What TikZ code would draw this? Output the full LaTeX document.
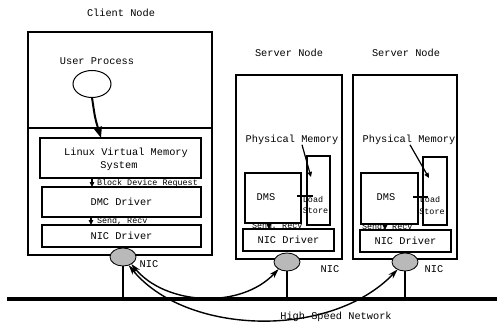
\documentclass[tikz,border=0pt]{standalone}
\usepackage{fontspec}
\setmainfont{Liberation Mono}
\usetikzlibrary{arrows.meta,calc,shapes.geometric}
\begin{document}
\begin{tikzpicture}[x=1pt,y=-1pt,
  every node/.style={font=\fontsize{10.3}{12}\selectfont, inner sep=0pt, outer sep=0pt},
  small/.style={font=\fontsize{8.4}{10}\selectfont},
  outerbox/.style={draw, line width=1.5pt},
  innerbox/.style={draw, line width=1.1pt},
  nic/.style={draw, ellipse, line width=0.8pt, fill=gray!55, minimum width=26pt, minimum height=18pt},
  sarrow/.style={line width=1.2pt, -{Triangle[length=5pt,width=4.5pt]}},
  bigarrow/.style={line width=2pt, -{Triangle[length=11pt,width=8pt]}},
  dblarrow/.style={line width=1.4pt, {Stealth[length=10pt,width=6pt]}-{Stealth[length=10pt,width=6pt]}},
  tickline/.style={line width=1.5pt},
  wire/.style={line width=1.5pt}]
\useasboundingbox (0,0) rectangle (497,323);

% network
\coordinate (netL) at (7,299);
\coordinate (netR) at (497,299);
\draw[line width=4pt] (netL) -- (netR);
\node (netlbl) at (336,317) {High Speed Network};

% client node
\node (clientlbl) at (121,13) {Client Node};
\node[outerbox, minimum width=184pt, minimum height=223pt] (client) at (120,143.5) {};
\coordinate (divl) at (28,128);
\coordinate (divr) at (212,128);
\draw[line width=1.2pt] (divl) -- (divr);
\node (uptext) at (97,61) {User Process};
\node[draw, ellipse, line width=1pt, minimum width=38pt, minimum height=27pt] (up) at (92,84) {};
\node[innerbox, minimum width=161pt, minimum height=40pt] (lvm) at (120.5,158) {};
\node (lvm1) at (126,153) {Linux Virtual Memory};
\node (lvm2) at (119,166) {System};
\node[innerbox, minimum width=159pt, minimum height=30pt] (dmc) at (121.5,202) {DMC Driver};
\node[innerbox, minimum width=159pt, minimum height=22pt] (cnd) at (121.5,236) {NIC Driver};
\node[small, anchor=west] (bdr) at (97,183) {Block Device Request};
\node[small, anchor=west] (csr) at (97,221) {Send, Recv};
\node[nic] (cnic) at (123,257) {};
\node (cniclbl) at (149,264) {NIC};
\draw[bigarrow] (up.south) .. controls (95,118) .. ($(lvm.north west)+(61,0)$);
\draw[sarrow] ($(lvm.south west)+(52,0)$) -- ($(dmc.north west)+(50,0)$);
\draw[sarrow] ($(dmc.south west)+(49,0)$) -- ($(cnd.north west)+(49,0)$);
\draw[wire] (cnic.south) -- (cnic.south |- netL);

% server 1
\node (s1lbl) at (289,53) {Server Node};
\node[outerbox, minimum width=106pt, minimum height=184pt] (s1) at (289,167) {};
\node (pm1) at (292,140) {Physical Memory};
\node[innerbox, minimum width=23pt, minimum height=69pt] (ls1) at (318.5,190.5) {};
\node[innerbox, minimum width=56pt, minimum height=50pt] (dms1) at (273,198) {};
\node (dms1t) at (266,197) {DMS};
\node[small] (ld1) at (313,200) {Load};
\node[small] (st1) at (315.5,211) {Store};
\node[small, anchor=west] (sr1) at (252,226) {Send, Recv};
\node[innerbox, minimum width=91pt, minimum height=22pt] (nd1) at (288.5,240) {NIC Driver};
\node[nic] (nic1) at (287,262) {};
\node (nic1lbl) at (330,269) {NIC};
\draw[tickline] ($(dms1.east)+(-4,-2)$) -- ($(dms1.east)+(12,-2)$);
\draw[sarrow] ($(pm1.south)+(10,0)$) -- ($(ls1.north)+(-7.5,21)$);
\draw[sarrow] ($(dms1.south west)+(24,0)$) -- ($(nd1.north west)+(26,0)$);
\draw[wire] (nic1.south) -- (nic1.south |- netL);

% server 2
\node (s2lbl) at (406,53) {Server Node};
\node[outerbox, minimum width=104pt, minimum height=184pt] (s2) at (405,167) {};
\node (pm2) at (409,140) {Physical Memory};
\node[innerbox, minimum width=24pt, minimum height=68pt] (ls2) at (435,191) {};
\node[innerbox, minimum width=57pt, minimum height=51pt] (dms2) at (389.5,198.5) {};
\node (dms2t) at (386,197) {DMS};
\node[small] (ld2) at (430,200) {Load};
\node[small] (st2) at (432,212) {Store};
\node[small, anchor=west] (sr2) at (362,227) {Send, Recv};
\node[innerbox, minimum width=91pt, minimum height=22pt] (nd2) at (405.5,241) {NIC Driver};
\node[nic] (nic2) at (405,262) {};
\node (nic2lbl) at (434,269) {NIC};
\draw[tickline] ($(dms2.east)+(-5,-1.5)$) -- ($(dms2.east)+(10,-1.5)$);
\draw[sarrow] ($(pm2.south)+(1,0)$) -- ($(ls2.north)+(-6,21)$);
\draw[sarrow] ($(dms2.south west)+(24,0)$) -- ($(nd2.north west)+(25,0)$);
\draw[wire] (nic2.south) -- (nic2.south |- netL);

% connections between NICs
\draw[dblarrow] (cnic.-40) .. controls (165,305) and (240,310) .. (nic1.-140);
\draw[dblarrow] (cnic.-55) .. controls (185,335) and (330,340) .. (nic2.-135);
\end{tikzpicture}
\end{document}
